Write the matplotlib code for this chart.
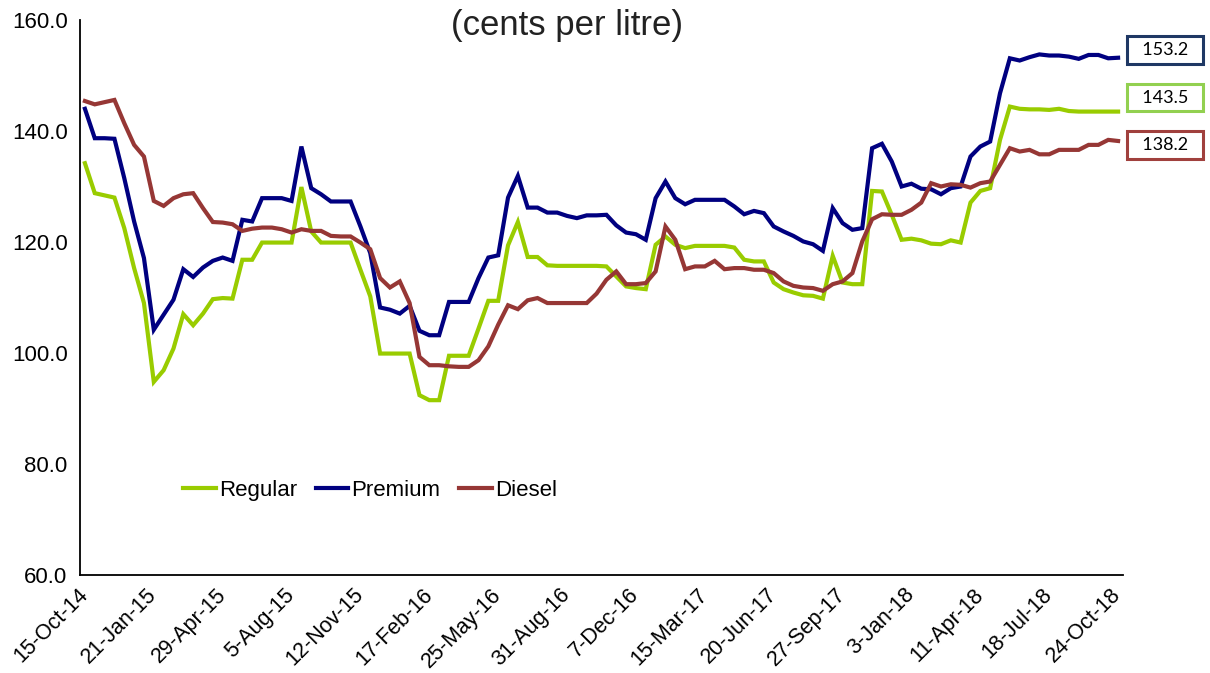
import matplotlib
matplotlib.use("Agg")
import matplotlib.pyplot as plt

# ---- data (biweekly observations, cents per litre) ----
regular = [134.2, 128.8, 128.4, 128.0, 122.5, 115.3, 109.0, 94.8, 96.9, 100.8,
           107.0, 105.0, 107.1, 109.7, 109.9, 109.8, 116.8, 116.8, 119.9, 119.9,
           119.9, 119.9, 129.9, 121.9, 119.9, 119.9, 119.9, 119.9, 115.0, 110.2,
           99.9, 99.9, 99.9, 99.9, 92.4, 91.5, 91.5, 99.5, 99.5, 99.5,
           104.4, 109.4, 109.4, 119.4, 123.6, 117.3, 117.3, 115.8, 115.7, 115.7,
           115.7, 115.7, 115.7, 115.6, 113.8, 112.0, 111.7, 111.5, 119.5, 121.0,
           119.5, 118.9, 119.3, 119.3, 119.3, 119.3, 119.0, 116.8, 116.5, 116.5,
           112.7, 111.5, 110.9, 110.4, 110.3, 109.8, 117.5, 112.7, 112.4, 112.4,
           129.2, 129.1, 124.9, 120.4, 120.6, 120.3, 119.7, 119.6, 120.3, 119.9,
           127.1, 129.2, 129.7, 138.4, 144.4, 144.0, 143.9, 143.9, 143.8, 144.0,
           143.6, 143.5, 143.5, 143.5, 143.5, 143.5]

premium = [144.0, 138.7, 138.7, 138.6, 131.5, 123.7, 117.1, 104.2, 106.9, 109.6,
           115.1, 113.7, 115.4, 116.6, 117.2, 116.6, 124.0, 123.7, 127.9, 127.9,
           127.9, 127.4, 137.2, 129.7, 128.6, 127.3, 127.3, 127.3, 122.8, 118.0,
           108.2, 107.8, 107.1, 108.5, 104.0, 103.2, 103.2, 109.2, 109.2, 109.2,
           113.5, 117.2, 117.6, 128.0, 131.9, 126.2, 126.2, 125.3, 125.3, 124.7,
           124.3, 124.8, 124.8, 124.9, 123.0, 121.7, 121.4, 120.4, 127.9, 130.9,
           127.9, 126.8, 127.6, 127.6, 127.6, 127.6, 126.4, 125.0, 125.6, 125.2,
           122.8, 121.9, 121.1, 120.1, 119.6, 118.4, 126.1, 123.4, 122.2, 122.5,
           136.9, 137.7, 134.5, 130.0, 130.5, 129.6, 129.5, 128.6, 129.7, 130.0,
           135.4, 137.2, 138.1, 146.8, 153.1, 152.7, 153.3, 153.8, 153.6, 153.6,
           153.4, 153.0, 153.7, 153.7, 153.1, 153.2]

diesel = [145.4, 144.8, 145.2, 145.6, 141.4, 137.5, 135.4, 127.4, 126.5, 127.9,
          128.6, 128.8, 126.1, 123.6, 123.5, 123.2, 122.0, 122.4, 122.6, 122.6,
          122.3, 121.7, 122.3, 122.0, 122.0, 121.1, 121.0, 121.0, 119.9, 118.7,
          113.5, 111.8, 112.9, 109.0, 99.3, 97.8, 97.8, 97.6, 97.5, 97.5,
          98.7, 101.2, 105.1, 108.6, 107.9, 109.5, 109.9, 109.0, 109.0, 109.0,
          109.0, 109.0, 110.7, 113.2, 114.7, 112.4, 112.4, 112.6, 114.7, 122.8,
          120.4, 115.1, 115.6, 115.6, 116.6, 115.1, 115.3, 115.3, 115.0, 115.0,
          114.4, 112.9, 112.1, 111.8, 111.7, 111.2, 112.4, 112.9, 114.4, 120.1,
          124.1, 125.0, 124.9, 124.9, 125.8, 127.1, 130.6, 130.0, 130.4, 130.3,
          129.8, 130.6, 130.9, 133.9, 136.9, 136.3, 136.6, 135.8, 135.8, 136.6,
          136.6, 136.6, 137.5, 137.5, 138.4, 138.2]

tick_labels = ["15-Oct-14", "21-Jan-15", "29-Apr-15", "5-Aug-15", "12-Nov-15",
               "17-Feb-16", "25-May-16", "31-Aug-16", "7-Dec-16", "15-Mar-17",
               "20-Jun-17", "27-Sep-17", "3-Jan-18", "11-Apr-18", "18-Jul-18",
               "24-Oct-18"]
label_step = 7

series_names = ["Regular", "Premium", "Diesel"]
line_colors = ["#99CC00", "#000080", "#963735"]
box_colors = ["#92D050", "#1F3864", "#A0403D"]
box_offsets = [(34, 10), (34, 5.5), (34, -3)]  # points

plt.rcParams['font.family'] = ['Liberation Sans', 'DejaVu Sans']

fig = plt.figure(figsize=(12.10, 6.73), dpi=100)
ax = fig.add_axes([80/1210, 1-575/673, (1123-80)/1210, (575-20)/673])

x = list(range(len(regular)))
for name, vals, col in zip(series_names, [regular, premium, diesel], line_colors):
    ax.plot(x, vals, color=col, lw=3.0, label=name, solid_joinstyle='miter')

ax.set_xlim(-0.5, len(regular) - 0.5)
ax.set_ylim(60, 160)
ax.set_yticks(range(60, 161, 20))
ax.set_yticklabels([f"{v:.1f}" for v in range(60, 161, 20)], fontsize=16)
ax.set_xticks(range(0, len(regular), label_step))
ax.set_xticklabels(tick_labels, fontsize=15.5, rotation=45, ha='right',
                   va='center', rotation_mode='anchor')
ax.tick_params(axis='both', length=0)
ax.tick_params(axis='y', pad=9)
ax.tick_params(axis='x', pad=12)

for s in ['top', 'right']:
    ax.spines[s].set_visible(False)
for s in ['left', 'bottom']:
    ax.spines[s].set_linewidth(1.3)
    ax.spines[s].set_color('black')

ax.legend(loc='center left', bbox_to_anchor=(0.08, 0.152), ncol=3,
          frameon=False, fontsize=16, handlelength=1.45, handletextpad=0.15,
          columnspacing=0.85)

for vals, bc, off in zip([regular, premium, diesel], box_colors, box_offsets):
    last = vals[-1]
    ax.annotate(f"  {last:.1f}  ", xy=(len(vals) - 1, last), xytext=off,
                textcoords='offset points', ha='center', va='center',
                fontsize=13, family=['Lato', 'DejaVu Sans'],
                annotation_clip=False,
                bbox=dict(boxstyle='square,pad=0.32', fc='white', ec=bc, lw=2.2))

fig.text(567/1210, 1-26/673, "(cents per litre)", ha='center', va='center',
         fontsize=25, color='#222222')

fig.savefig("out.png", dpi=100)
